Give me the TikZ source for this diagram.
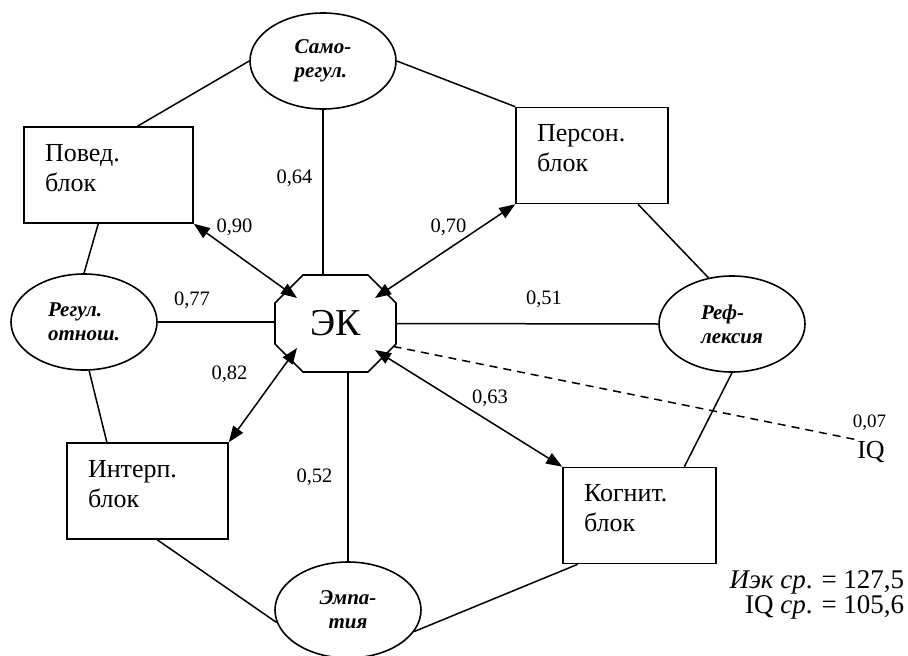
\documentclass[tikz,border=0pt]{standalone}
\usepackage{fontspec}
\setmainfont{Liberation Serif}
\usepackage{tikz}
\usetikzlibrary{arrows.meta,calc,shapes.geometric}

\begin{document}
\begin{tikzpicture}[x=1pt,y=-1pt,line width=1.5pt,>={Triangle[length=16pt,width=12pt]},
    blok/.style={draw,rectangle,line width=1.6pt,text width=#1,inner xsep=21pt,inner ysep=0pt,text depth=45pt,minimum height=96pt,align=left,font=\fontsize{26}{30}\selectfont},
    oval/.style={draw,ellipse,line width=1.6pt,minimum width=146pt,minimum height=96pt,inner sep=0pt,align=left,font=\fontsize{21}{24}\selectfont\bfseries\itshape},
    koef/.style={inner sep=0pt,font=\fontsize{20.5}{24}\selectfont}]
    \pgfmathsetmacro{\ekw}{60.5};
    \pgfmathsetmacro{\ekh}{48.5};
    \pgfmathsetmacro{\ekc}{28};

    \useasboundingbox (0,0) rectangle (908,656);

    \node[oval] (samo) at (323,61) {Само-\\регул.};
    \node[oval] (regul) at (84,322) {Регул.\\отнош.};
    \node[oval] (refl) at (732,324) {Реф-\\лексия};
    \node[oval,align=center] (empa) at (348,610) {Эмпа-\\тия};

    \node[blok=127pt] (poved) at (108.5,175) {Повед.\\блок};
    \node[blok=110pt] (persn) at (592,155.5) {Персон.\\блок};
    \node[blok=119pt] (interp) at (147.5,491) {Интерп.\\блок};
    \node[blok=111pt] (kognit) at (639.5,515.5) {Когнит.\\блок};

    \node[minimum width=121pt,minimum height=97pt,inner sep=0pt,font=\fontsize{38}{40}\selectfont] (ek) at (335.5,323.5) {ЭК};
    \draw[line width=1.6pt] ($(ek)+(-\ekw,\ekc-\ekh)$) -- ($(ek)+(\ekc-\ekw,-\ekh)$) -- ($(ek)+(\ekw-\ekc,-\ekh)$) -- ($(ek)+(\ekw,\ekc-\ekh)$) -- ($(ek)+(\ekw,\ekh-\ekc)$) -- ($(ek)+(\ekw-\ekc,\ekh)$) -- ($(ek)+(\ekc-\ekw,\ekh)$) -- ($(ek)+(-\ekw,\ekh-\ekc)$) -- cycle;
    \coordinate (ekNW) at ($(ek)+(-38.5,-25.5)$);
    \coordinate (ekNE) at ($(ek)+(39.5,-25.5)$);
    \coordinate (ekSW) at ($(ek)+(-38.5,24.5)$);
    \coordinate (ekSE) at ($(ek)+(39.5,26.5)$);
    \coordinate (ekE) at ($(ek)+(58,23)$);

    \node[font=\fontsize{26}{30}\selectfont,inner sep=1pt] (iq) at (871,452) {IQ};

    \draw (samo.west) -- ($(poved.north west)!0.67!(poved.north east)$);
    \draw (samo.east) -- (persn.north west);
    \draw (samo) -- (samo |- ek.north);
    \draw ($(poved.south west)!0.44!(poved.south east)$) -- (regul.north);
    \draw ($(persn.south west)!0.8!(persn.south east)$) -- (refl.117);
    \draw (regul.east) -- (regul.east -| ek.west);
    \draw (ek.east) -- (refl.west);
    \draw (regul.-84) -- ($(interp.north west)!0.25!(interp.north east)$);
    \draw (refl.south) -- ($(kognit.north west)!0.79!(kognit.north east)$);
    \draw (empa) -- (empa |- ek.south);
    \draw ($(interp.south west)!0.56!(interp.south east)$) -- (empa.190);
    \draw ($(kognit.south west)!0.1!(kognit.south east)$) -- (empa.-18);

    \draw[<->] (poved.south east) -- (ekNW);
    \draw[<->] (ekNE) -- (persn.south west);
    \draw[<->] (ekSW) -- (interp.north east);
    \draw[<->] (ekSE) -- (kognit.north west);
    \draw[dash pattern=on 8pt off 6pt] (ekE) -- (iq.north west);

    \node[koef] (k064) at (294.5,178) {0,64};
    \node[koef] (k090) at (234.5,227) {0,90};
    \node[koef] (k070) at (448.5,227) {0,70};
    \node[koef] (k077) at (192,300) {0,77};
    \node[koef] (k051) at (544,299) {0,51};
    \node[koef] (k082) at (229.5,374) {0,82};
    \node[koef] (k063) at (490,398) {0,63};
    \node[koef] (k052) at (314.5,477) {0,52};
    \node[koef,font=\fontsize{19}{22}\selectfont] (k007) at (869.5,423) {0,07};

    \node[anchor=base east,inner sep=0pt,font=\fontsize{27}{30}\selectfont] (srek) at (905,588) {\textit{Иэк ср}. = 127,5};
    \node[anchor=base east,inner sep=0pt,font=\fontsize{27}{30}\selectfont] (sriq) at (905,613) {IQ \textit{ср}. = 105,6};
\end{tikzpicture}
\end{document}
